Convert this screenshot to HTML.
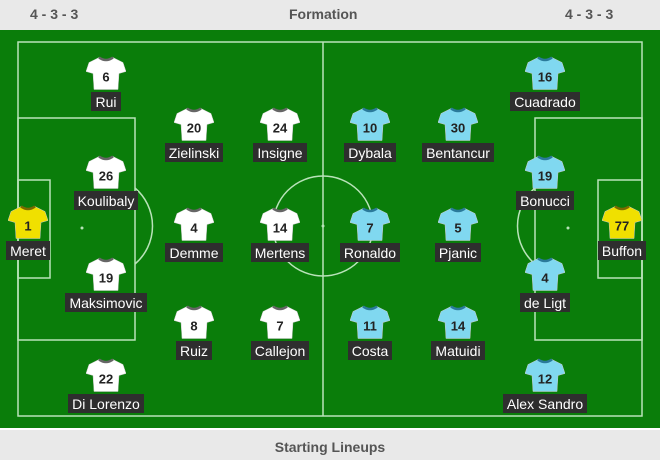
<!DOCTYPE html>
<html><head><meta charset="utf-8"><style>
body{margin:0;width:660px;height:460px;overflow:hidden;font-family:"Liberation Sans",sans-serif;background:#fff;position:relative}
.hdr{position:absolute;left:0;top:0;width:660px;height:30px;background:#e9e9e9;color:#555;font-weight:bold;font-size:14px}
.hdr span{position:absolute;top:6px}
.field{position:absolute;left:0;top:30px;width:660px;height:398px;background:#0a7d0a}
.ftr{position:absolute;left:0;top:430px;width:660px;height:30px;background:#e9e9e9;color:#555;font-weight:bold;font-size:14px;text-align:center;line-height:34px}
.pl{position:absolute;width:100px;margin-left:-50px;text-align:center}
.pl svg{display:block;margin:0 auto}
.lb{display:inline-block;background:#2e2e2e;color:#fff;font-size:14px;padding:2px 4px 1px;margin-top:1px}
</style></head><body>
<div class="hdr"><span style="left:30px">4 - 3 - 3</span><span style="left:289px">Formation</span><span style="left:565px">4 - 3 - 3</span></div>
<div class="field">
<svg width="660" height="398" style="position:absolute;left:0;top:0">
<g fill="none" stroke="#b9e3b9" stroke-width="1.5">
<rect x="18" y="12" width="624" height="374"/>
<line x1="323" y1="12" x2="323" y2="386"/>
<circle cx="323" cy="196" r="50"/>
<rect x="18" y="88" width="117" height="222"/>
<rect x="18" y="150" width="32" height="98"/>
<rect x="535" y="88" width="107" height="222"/>
<rect x="598" y="150" width="44" height="98"/>
<path d="M135 158 A50 50 0 0 1 135 234"/>
<path d="M535 158 A50 50 0 0 0 535 234"/>
</g>
<g fill="#b9e3b9"><circle cx="82" cy="198" r="1.5"/><circle cx="568" cy="198" r="1.5"/><circle cx="323" cy="196" r="1.5"/></g>
</svg>
</div>
<div class="ftr">Starting Lineups</div>
<script>
const players=[
["Meret","1",28,205,"y"],["Rui","6",106,56,"w"],["Koulibaly","26",106,155,"w"],["Maksimovic","19",106,257,"w"],["Di Lorenzo","22",106,358,"w"],
["Zielinski","20",194,107,"w"],["Demme","4",194,207,"w"],["Ruiz","8",194,305,"w"],
["Insigne","24",280,107,"w"],["Mertens","14",280,207,"w"],["Callejon","7",280,305,"w"],
["Dybala","10",370,107,"b"],["Ronaldo","7",370,207,"b"],["Costa","11",370,305,"b"],
["Bentancur","30",458,107,"b"],["Pjanic","5",458,207,"b"],["Matuidi","14",458,305,"b"],
["Cuadrado","16",545,56,"b"],["Bonucci","19",545,155,"b"],["de Ligt","4",545,257,"b"],["Alex Sandro","12",545,358,"b"],
["Buffon","77",622,205,"y"]];
const cols={w:["#ffffff","#666"],b:["#80d8f0","#2a7a9a"],y:["#f0e000","#7a6a00"]};
players.forEach(p=>{
const d=document.createElement('div');d.className='pl';


d.style.left=p[2]+'px';d.style.top=p[3]+'px';
const c=cols[p[4]];
d.innerHTML='<svg width="40" height="35" viewBox="0 0 40 34"><path d="M13 1 L3 6 L0 15 L7 17 L8 33 L32 33 L33 17 L40 15 L37 6 L27 1 Q20 5 13 1Z" fill="'+c[0]+'" stroke="#ccc" stroke-width="0.5"/><path d="M13 1 Q20 6 27 1" fill="none" stroke="'+c[1]+'" stroke-width="2.5"/><text x="20" y="25" text-anchor="middle" font-family="Liberation Sans" font-weight="bold" font-size="13" fill="#222">'+p[1]+'</text></svg><span class="lb">'+p[0]+'</span>';
document.body.appendChild(d);
});
</script>
</body></html>
